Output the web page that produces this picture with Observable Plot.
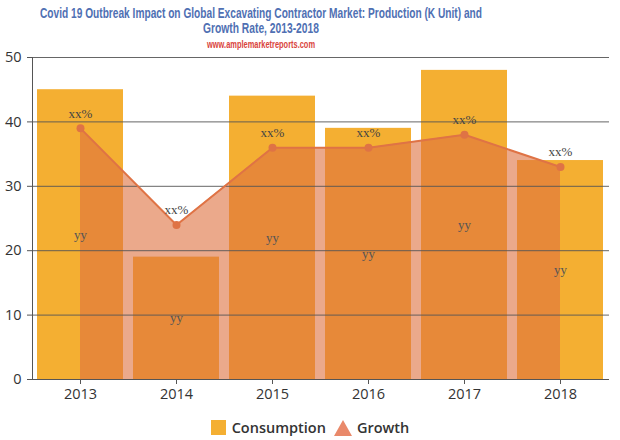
<!DOCTYPE html>
<html>
<head>
<meta charset="utf-8">
<script src="https://cdn.jsdelivr.net/npm/d3@7"></script>
<script src="https://cdn.jsdelivr.net/npm/@observablehq/plot@0.6"></script>
<style>
  html, body { margin: 0; padding: 0; background: #fff; }
  #wrap { width: 620px; height: 440px; position: relative; overflow: hidden; }
  .hl { position: absolute; white-space: nowrap; font-family: "Liberation Sans", Arial, sans-serif; font-weight: bold; transform-origin: 0 0; }
  .t { color: #4f70b3; font-size: 14.5px; line-height: 15px; }
  .u { color: #d9443c; font-size: 10.5px; line-height: 11px; }
  #chart { position: absolute; left: 0; top: 47px; }
  #legend { position: absolute; left: 0; top: 418px; width: 620px; text-align: center; font-family: "Open Sans", sans-serif; font-size: 14.5px; font-weight: 600; color: #333; }
  #legend span.item { display: inline-flex; align-items: center; margin: 0 4px; }
  #legend svg { margin-right: 5px; }
</style>
</head>
<body>
<div id="wrap">
  <div class="hl t" id="t1" data-x0="40" data-x1="482" data-y="6">Covid 19 Outbreak Impact on Global Excavating Contractor Market: Production (K Unit) and</div>
  <div class="hl t" id="t2" data-x0="203" data-x1="319" data-y="21">Growth Rate, 2013-2018</div>
  <div class="hl u" id="t3" data-x0="207" data-x1="315" data-y="39">www.amplemarketreports.com</div>
  <div id="chart"></div>
  <div id="legend"></div>
</div>
<script>
const years = ["2013", "2014", "2015", "2016", "2017", "2018"];
const consumption = [45, 19, 44, 39, 48, 34];
const growth = [39, 24, 36, 36, 38, 33];
const growthLabels = ["xx%", "xx%", "xx%", "xx%", "xx%", "xx%"];
const valueLabels = ["yy", "yy", "yy", "yy", "yy", "yy"];
const yTicks = [0, 10, 20, 30, 40, 50];

const colBar = "#f4af32";
const colArea = "#dd6f3e";
const colLine = "#df7345";

// fit condensed header lines
document.querySelectorAll(".hl").forEach(el => {
  const x0 = +el.dataset.x0, x1 = +el.dataset.x1, y = +el.dataset.y;
  const w = el.getBoundingClientRect().width;
  const s = (x1 - x0) / w;
  el.style.left = x0 + "px";
  el.style.top = y + "px";
  el.style.transform = `scaleX(${s})`;
});

const data = years.map((y, i) => ({
  year: y, consumption: consumption[i], growth: growth[i],
  gl: growthLabels[i], vl: valueLabels[i], half: consumption[i] / 2
}));

const chart = Plot.plot({
  width: 620,
  height: 363,
  marginLeft: 32,
  marginRight: 11,
  marginTop: 10,
  marginBottom: 31,
  style: { fontFamily: "'Open Sans', sans-serif", fontSize: "14px", color: "#333", background: "transparent" },
  x: { type: "band", domain: years, paddingInner: 0.1, paddingOuter: 0.05, label: null },
  y: { domain: [0, 50], label: null },
  marks: [
    Plot.barY(data, { x: "year", y: "consumption", fill: colBar }),
    Plot.areaY(data, { x: "year", y: "growth", fill: colArea, fillOpacity: 0.6 }),
    Plot.gridY(yTicks, { stroke: "#555", strokeOpacity: 0.9 }),
    Plot.lineY(data, { x: "year", y: "growth", stroke: colLine, strokeWidth: 2 }),
    Plot.dot(data, { x: "year", y: "growth", r: 4, fill: colLine }),
    Plot.text(data, { x: "year", y: "growth", text: "gl", dy: -15, fontFamily: "'Liberation Serif', serif", fontSize: 13, fill: "#444" }),
    Plot.text(data, { x: "year", y: "half", text: "vl", fontFamily: "'Liberation Serif', serif", fontSize: 13, fill: "#555" }),
    Plot.axisY(yTicks, { tickSize: 5, tickPadding: 6, stroke: "#555", fill: "#333", fontSize: 14.5 }),
    Plot.axisX({ tickSize: 5, tickPadding: 4, stroke: "#555", fill: "#333", fontSize: 14.5 }),
    Plot.ruleY([0], { stroke: "#555" }),
    Plot.frame({ anchor: "left", stroke: "#555" })
  ]
});
document.getElementById("chart").appendChild(chart);

const legend = document.getElementById("legend");
legend.innerHTML =
  `<span class="item"><svg width="16" height="16"><rect x="0" y="0" width="15" height="15" fill="${colBar}"/></svg>Consumption</span>` +
  `<span class="item"><svg width="18" height="16"><polygon points="9,0 18,16 0,16" fill="#e9896a"/></svg>Growth</span>`;
</script>
</body>
</html>
